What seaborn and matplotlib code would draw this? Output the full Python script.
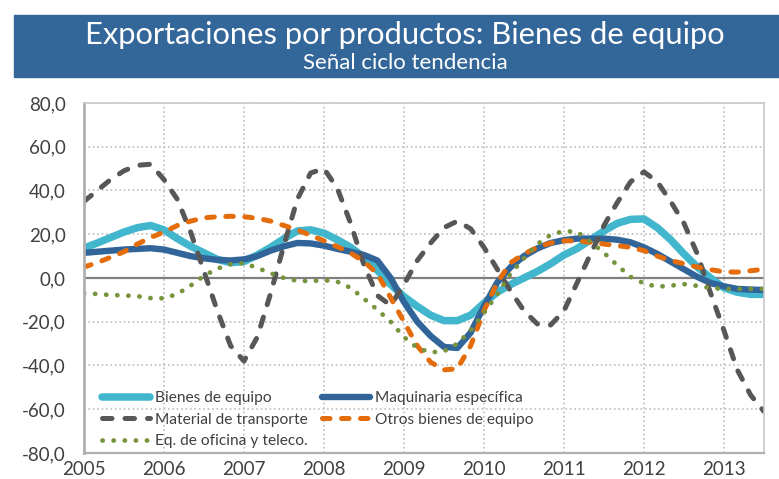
import numpy as np
import pandas as pd
import matplotlib
matplotlib.use("Agg")
import matplotlib.pyplot as plt
import seaborn as sns
from matplotlib.ticker import FuncFormatter

# bi-monthly positions (2005.0 .. 2013.5)
fechas = [2005 + k / 6 for k in range(52)]

bienes = [13.7, 16, 18.5, 21, 23, 24, 22, 18, 14.5, 11.5, 8.5, 7, 7.5, 10.5, 14, 18, 21.5, 22,
          20.5, 17.5, 14, 9.5, 3.5, -3, -8.5, -13, -17, -19.5, -19.5, -17, -11.5, -6.5, -3, 0,
          3, 6.5, 10.5, 13.5, 17.5, 21.5, 25, 26.8, 27, 23, 17.5, 11, 5, 0, -4.5, -6.5, -7.5, -7.5]
maquinaria = [11.5, 12, 12.5, 13, 13.3, 13.6, 13, 11.5, 10, 9, 8.3, 8, 8.5, 10, 12.5, 14.5, 16,
              15.8, 14.8, 13.3, 12, 10.5, 8, 0, -11, -20, -26.5, -31.5, -32, -25, -13, -2, 5, 10,
              13.5, 16, 17.3, 18, 18, 18, 17.5, 16.3, 14, 11, 7.5, 4, 0.5, -2.3, -3.8, -5, -5.3, -5.5]
transporte = [35, 40, 45, 49, 51.5, 52, 45, 36, 21, 3, -15, -31, -38, -27, -7, 15, 36, 48, 50,
              41, 25, 6, -8, -12.5, -3, 8, 16, 23, 26, 22.5, 14, 4, -6, -15, -21, -21.5, -15, -2,
              11, 24, 34.5, 44, 48.5, 44, 35, 25, 11, -7, -24, -42, -53.5, -61]
otros = [5, 7, 9.5, 12, 15.5, 18.5, 21, 24, 26, 27.5, 28, 28.2, 28, 27.3, 26, 24, 22, 19.5, 17,
         14.3, 11.4, 7.5, 2, -9, -20, -31, -38.5, -42, -41.5, -31, -15, -2, 7, 11, 14, 16, 17,
         17, 16.3, 15.5, 14.8, 14, 12.5, 10, 8, 6.5, 5, 3.8, 2.8, 2.7, 3.3, 4]
oficina = [-7, -7.3, -7.8, -8, -8.3, -9.2, -9.3, -7.3, -3.5, 1, 4.3, 6.3, 6.8, 4.6, 2.2, 0, -1.3,
           -1.4, -1, -1.7, -4.5, -9.5, -14.5, -20, -27, -32, -34, -33.5, -30, -24, -16, -7.5, 2,
           9, 15.5, 19.7, 21.5, 21, 16.5, 11.5, 5.8, 0.5, -2.5, -4, -3.5, -2.8, -3.6, -4.6, -5,
           -5, -5, -5]

anios = list(range(2005, 2014))
yticks = list(range(-80, 81, 20))

df = pd.DataFrame({
    "fecha": fechas,
    "Bienes de equipo": bienes,
    "Maquinaria específica": maquinaria,
    "Material de transporte": transporte,
    "Otros bienes de equipo": otros,
    "Eq. de oficina y teleco.": oficina,
})

sns.set_style("white")
plt.rcParams["font.family"] = ["Lato", "DejaVu Sans"]

fig = plt.figure(figsize=(7.79, 4.79), dpi=100)
ax = fig.add_axes([0.1078, 0.0543, 0.8729, 0.7307])

gris = "#404040"
estilos = {
    "Bienes de equipo": dict(color="#41b6cd", lw=5.4, dashes=None),
    "Maquinaria específica": dict(color="#31659a", lw=4.6, dashes=None),
    "Material de transporte": dict(color="#575757", lw=3.6, dashes=(1.9, 2.6)),
    "Otros bienes de equipo": dict(color="#e46c0a", lw=3.6, dashes=(1.5, 2.3)),
    "Eq. de oficina y teleco.": dict(color="#77933c", lw=3.4, dashes=(0.05, 2.3)),
}

ax.axhline(0, color="#808080", lw=1.6, zorder=1)
lineas = {}
for nombre, st in estilos.items():
    kw = dict(color=st["color"], lw=st["lw"], label=nombre,
              solid_capstyle="round", dash_capstyle="round")
    line = sns.lineplot(data=df, x="fecha", y=nombre, ax=ax, **kw).lines[-1]
    if st["dashes"] is not None:
        line.set_dashes(st["dashes"])
    lineas[nombre] = line

ax.set_xlim(2005, 2013.5)
ax.set_ylim(-80, 80)
ax.set_xticks(anios)
ax.set_yticks(yticks)
ax.yaxis.set_major_formatter(FuncFormatter(lambda v, p: f"{v:.1f}".replace(".", ",")))
ax.set_xlabel("")
ax.set_ylabel("")
ax.grid(True, color="#bdbdbd", linestyle=":", lw=1.2)
ax.set_axisbelow(True)
for s in ax.spines.values():
    s.set_color("#c8c8c8")
    s.set_linewidth(1.2)
ax.spines["left"].set_color("#b0b0b0")
ax.spines["left"].set_linewidth(2)
ax.spines["bottom"].set_color("#b0b0b0")
ax.spines["bottom"].set_linewidth(1.6)
ax.tick_params(axis="both", labelsize=13.5, colors="#b0b0b0", labelcolor=gris,
               length=5, width=1.2, direction="out")
ax.tick_params(axis="y", pad=8)
ax.tick_params(axis="x", pad=0.5)

orden = ["Bienes de equipo", "Material de transporte", "Eq. de oficina y teleco.",
         "Maquinaria específica", "Otros bienes de equipo"]
ax.legend([lineas[n] for n in orden], orden, ncol=2, loc="lower left",
          bbox_to_anchor=(0.006, -0.026), frameon=False, handlelength=3.1,
          handletextpad=0.3, columnspacing=0.9, labelspacing=0.48, labelcolor=gris,
          fontsize=11.2)

# banner
fig.add_artist(plt.Rectangle((0.018, 0.839), 0.982, 0.129, transform=fig.transFigure,
                             color="#336699", zorder=0))
fig.text(0.52, 0.926, "Exportaciones por productos: Bienes de equipo", color="white",
         fontsize=22.2, ha="center", va="center")
fig.text(0.52, 0.868, "Señal ciclo tendencia", color="white",
         fontsize=16, ha="center", va="center")

fig.savefig("out.png", dpi=100, facecolor="white")
